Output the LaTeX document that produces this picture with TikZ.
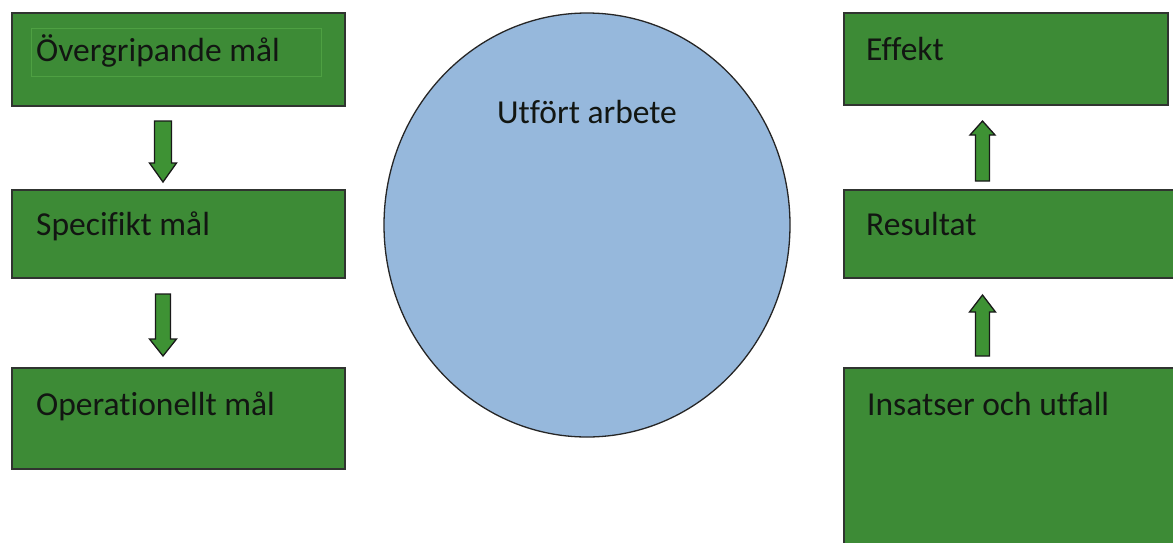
\documentclass[tikz,border=0pt]{standalone}
\usepackage{fontspec}
\setmainfont{Carlito}[Ligatures=NoCommon]
\usetikzlibrary{shapes.geometric}
\definecolor{boxgreen}{RGB}{61,139,54}
\definecolor{arrgreen}{RGB}{62,146,52}
\definecolor{boxline}{RGB}{48,52,48}
\definecolor{circfill}{RGB}{150,184,220}
\definecolor{innergreen}{RGB}{78,160,66}
\definecolor{txt}{RGB}{18,22,18}
\tikzset{
  gbox/.style={draw=boxline, line width=2pt, fill=boxgreen},
  lbl/.style={anchor=base west, inner sep=0pt, font=\fontsize{33.5}{36}\selectfont, text=txt},
  blockarrow/.style={draw=black!90, line width=1.3pt, fill=arrgreen, line join=miter},
}
\begin{document}
\begin{tikzpicture}[x=1pt,y=-1pt]
\useasboundingbox (0,0) rectangle (1173,542);
\fill[white] (0,0) rectangle (1173,542);
\clip (0,0) rectangle (1173,542);
% left column
\node[gbox, minimum width=333pt, minimum height=93pt, anchor=north west] (ov) at (11,12) {};
\draw[innergreen, line width=0.6pt] (31,28) rectangle (321,76);
\node[gbox, minimum width=333pt, minimum height=88pt, anchor=north west] (sp) at (11,189) {};
\node[gbox, minimum width=333pt, minimum height=101pt, anchor=north west] (op) at (11,367) {};
\node[lbl] (ovt) at (36,61) {Övergripande mål};
\node[lbl] (spt) at (36,235) {Specifikt mål};
\node[lbl] (opt) at (36,415) {Operationellt mål};
% circle
\node[draw=black!85, line width=1.3pt, fill=circfill, ellipse, minimum width=406pt, minimum height=424pt, inner sep=0pt] (ut) at (587,225) {};
\node[lbl, anchor=base] (utt) at (587,123) {Utfört arbete};
% right column
\node[gbox, minimum width=324pt, minimum height=92pt, anchor=north west] (ef) at (843,12) {};
\node[gbox, minimum width=345pt, minimum height=88pt, anchor=north west] (re) at (843,189) {};
\node[gbox, minimum width=345pt, minimum height=200pt, anchor=north west] (in) at (843,367) {};
\node[lbl] (eft) at (866,60) {Effekt};
\node[lbl] (ret) at (866,235) {Resultat};
\node[lbl] (int) at (867,415) {Insatser och utfall};
% block arrows (anchored at their tails)
\coordinate (a1) at (163,121);
\coordinate (a2) at (163,294);
\coordinate (a3) at (982.5,181);
\coordinate (a4) at (982.5,356);
\draw[blockarrow, shift={(a1)}] (-8.5,0) -- (8.5,0) -- (8.5,42) -- (13.5,42) -- (0,61) -- (-13.5,42) -- (-8.5,42) -- cycle;
\draw[blockarrow, shift={(a2)}] (-7.5,0) -- (7.5,0) -- (7.5,45) -- (13.5,45) -- (0,62) -- (-13.5,45) -- (-7.5,45) -- cycle;
\draw[blockarrow, shift={(a3)}] (-7,0) -- (7,0) -- (7,-46) -- (12.5,-46) -- (0,-60) -- (-12.5,-46) -- (-7,-46) -- cycle;
\draw[blockarrow, shift={(a4)}] (-7,0) -- (7,0) -- (7,-44) -- (13,-44) -- (0,-61) -- (-13,-44) -- (-7,-44) -- cycle;
\end{tikzpicture}
\end{document}
